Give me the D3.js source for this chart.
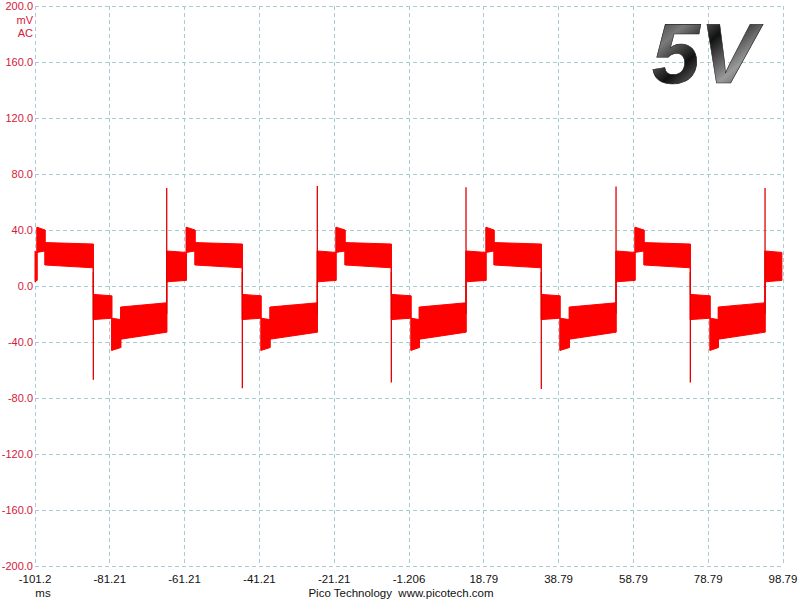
<!DOCTYPE html>
<html><head><meta charset="utf-8">
<script src="https://cdn.jsdelivr.net/npm/d3@7"></script>
<style>
html,body{margin:0;padding:0;background:#fff;}
svg{display:block;}
text{font-family:"Liberation Sans","DejaVu Sans",Arial,sans-serif;}
</style></head>
<body>
<script>
// ---- data ----
const xTickLabels = ["-101.2","-81.21","-61.21","-41.21","-21.21","-1.206","18.79","38.79","58.79","78.79","98.79"];
const xTickValues = [-101.206,-81.206,-61.206,-41.206,-21.206,-1.206,18.794,38.794,58.794,78.794,98.794];
const yTickValues = [200,160,120,80,40,0,-40,-80,-120,-160,-200];
const yTickLabels = ["200.0","160.0","120.0","80.0","40.0","0.0","-40.0","-80.0","-120.0","-160.0","-200.0"];

// segment boundaries (ms); segment types cycle through levelNames starting at "mid-high"
const edgeTimes = [-101.2,-100.67,-98.53,-85.61,-80.69,-78.29,-65.99,
  -60.75,-58.42,-45.77,-40.77,-38.37,-25.72,
  -20.72,-18.31,-5.93,-0.67,1.55,14.04,
  19.39,21.53,34.17,39.17,41.66,54.15,
  59.23,61.63,74.02,79.29,81.51,93.99,98.5];
const levelNames = ["mid-high","high peak","high","mid-low","low peak","low"];
const topStart = [25, 42, 31, -6, -23, -15];
const topEnd   = [24, 40, 30, -7, -24, -12];
const botStart = [3, 24, 15, -24, -46, -38];
const botEnd   = [4, 25, 13, -23, -44, -33];

// transients (ms, mV)
const downTimes = [-85.61,-45.77,-5.93,34.17,74.02];
const downPeaks = [-67,-73,-69,-73.5,-69];
const upTimes   = [-65.99,-25.72,14.04,54.15,93.99];
const upPeaks   = [70,71.4,70.5,71,70];

// ---- chart ----
const W = 800, H = 600;
const svg = d3.select("body").append("svg").attr("width", W).attr("height", H);
const x = d3.scaleLinear().domain([-101.206, 98.794]).range([35, 783]);
const y = d3.scaleLinear().domain([-200, 200]).range([566, 6]);

const defs = svg.append("defs");
const g1 = defs.append("linearGradient").attr("id","vgrad").attr("x1","0").attr("y1","0").attr("x2","1").attr("y2","1");
g1.append("stop").attr("offset","0%").attr("stop-color","#1a1a1a");
g1.append("stop").attr("offset","25%").attr("stop-color","#7a7a7a");
g1.append("stop").attr("offset","45%").attr("stop-color","#111");
g1.append("stop").attr("offset","70%").attr("stop-color","#9a9a9a");
g1.append("stop").attr("offset","100%").attr("stop-color","#0a0a0a");

const gridColor = "#a9cbd3";
// grid
svg.append("g").selectAll("line").data(xTickValues).join("line")
  .attr("x1", d => x(d)).attr("x2", d => x(d)).attr("y1", y(200)).attr("y2", y(-200))
  .attr("stroke", gridColor).attr("stroke-dasharray","4,3").attr("shape-rendering","crispEdges");
svg.append("g").selectAll("line").data(yTickValues).join("line")
  .attr("y1", d => y(d)).attr("y2", d => y(d)).attr("x1", x(-101.206)).attr("x2", x(98.794))
  .attr("stroke", gridColor).attr("stroke-dasharray","4,3").attr("shape-rendering","crispEdges");

// y labels
svg.append("g").selectAll("text").data(yTickValues).join("text")
  .attr("x", 33).attr("y", d => y(d)).attr("dy","0.36em").attr("text-anchor","end")
  .attr("font-size", 11).attr("fill", "#d3203a").text((d,i) => yTickLabels[i]);
svg.append("text").attr("x",33).attr("y",y(200)+14).attr("dy","0.36em").attr("text-anchor","end")
  .attr("font-size",11).attr("fill","#d3203a").text("mV");
svg.append("text").attr("x",33).attr("y",y(200)+27).attr("dy","0.36em").attr("text-anchor","end")
  .attr("font-size",11).attr("fill","#d3203a").text("AC");

// x labels
svg.append("g").selectAll("text").data(xTickValues).join("text")
  .attr("x", d => x(d)).attr("y", 579).attr("dy","0.36em").attr("text-anchor","middle")
  .attr("font-size", 11.5).attr("fill", "#111").text((d,i) => xTickLabels[i]);
svg.append("text").attr("x",43).attr("y",593).attr("dy","0.36em").attr("text-anchor","middle")
  .attr("font-size",11.5).attr("fill","#111").text("ms");
svg.append("text").attr("x",401).attr("y",593).attr("dy","0.36em").attr("text-anchor","middle")
  .attr("font-size",11.5).attr("fill","#111").attr("xml:space","preserve").text("Pico Technology  www.picotech.com");

// waveform bands
const segs = [];
for (let i = 0; i < edgeTimes.length - 1; i++) {
  const k = i % levelNames.length;
  segs.push({t0: edgeTimes[i], t1: edgeTimes[i+1], k});
}
const area = d3.area().x(d => x(d.t)).y0(d => y(d.lo)).y1(d => y(d.hi));
const trace = svg.append("g");
trace.selectAll("path.band").data(segs).join("path").attr("class","band")
  .attr("d", s => area([{t:s.t0, hi:topStart[s.k], lo:botStart[s.k]},{t:s.t1, hi:topEnd[s.k], lo:botEnd[s.k]}]))
  .attr("fill","#ff0000").attr("stroke","#ff0000").attr("stroke-width",1);

// transitions between consecutive bands
trace.selectAll("line.join").data(segs.slice(1)).join("line").attr("class","join")
  .attr("x1", s => x(s.t0)).attr("x2", s => x(s.t0))
  .attr("y1", (s,i) => y(botEnd[segs[i].k])).attr("y2", s => y(topStart[s.k]))
  .attr("stroke","#ff0000").attr("stroke-width",1.2);
trace.selectAll("line.join2").data(segs.slice(1)).join("line").attr("class","join2")
  .attr("x1", s => x(s.t0)).attr("x2", s => x(s.t0))
  .attr("y1", (s,i) => y(topEnd[segs[i].k])).attr("y2", s => y(botStart[s.k]))
  .attr("stroke","#ff0000").attr("stroke-width",1.2);

// spikes
trace.selectAll("line.down").data(downTimes).join("line").attr("class","down")
  .attr("x1", d => x(d)).attr("x2", d => x(d)).attr("y1", y(10)).attr("y2", (d,i) => y(downPeaks[i]))
  .attr("stroke","#e00000").attr("stroke-width",1.3);
trace.selectAll("line.up").data(upTimes).join("line").attr("class","up")
  .attr("x1", d => x(d)).attr("x2", d => x(d)).attr("y1", y(-20)).attr("y2", (d,i) => y(upPeaks[i]))
  .attr("stroke","#e00000").attr("stroke-width",1.3);

// 5V label
svg.append("text").attr("x", 652).attr("y", 83).attr("font-size", 86)
  .attr("font-style","italic").attr("font-weight","bold")
  .attr("fill","url(#vgrad)").attr("stroke","#222").attr("stroke-width",0.6)
  .text("5V");
</script>
</body></html>
